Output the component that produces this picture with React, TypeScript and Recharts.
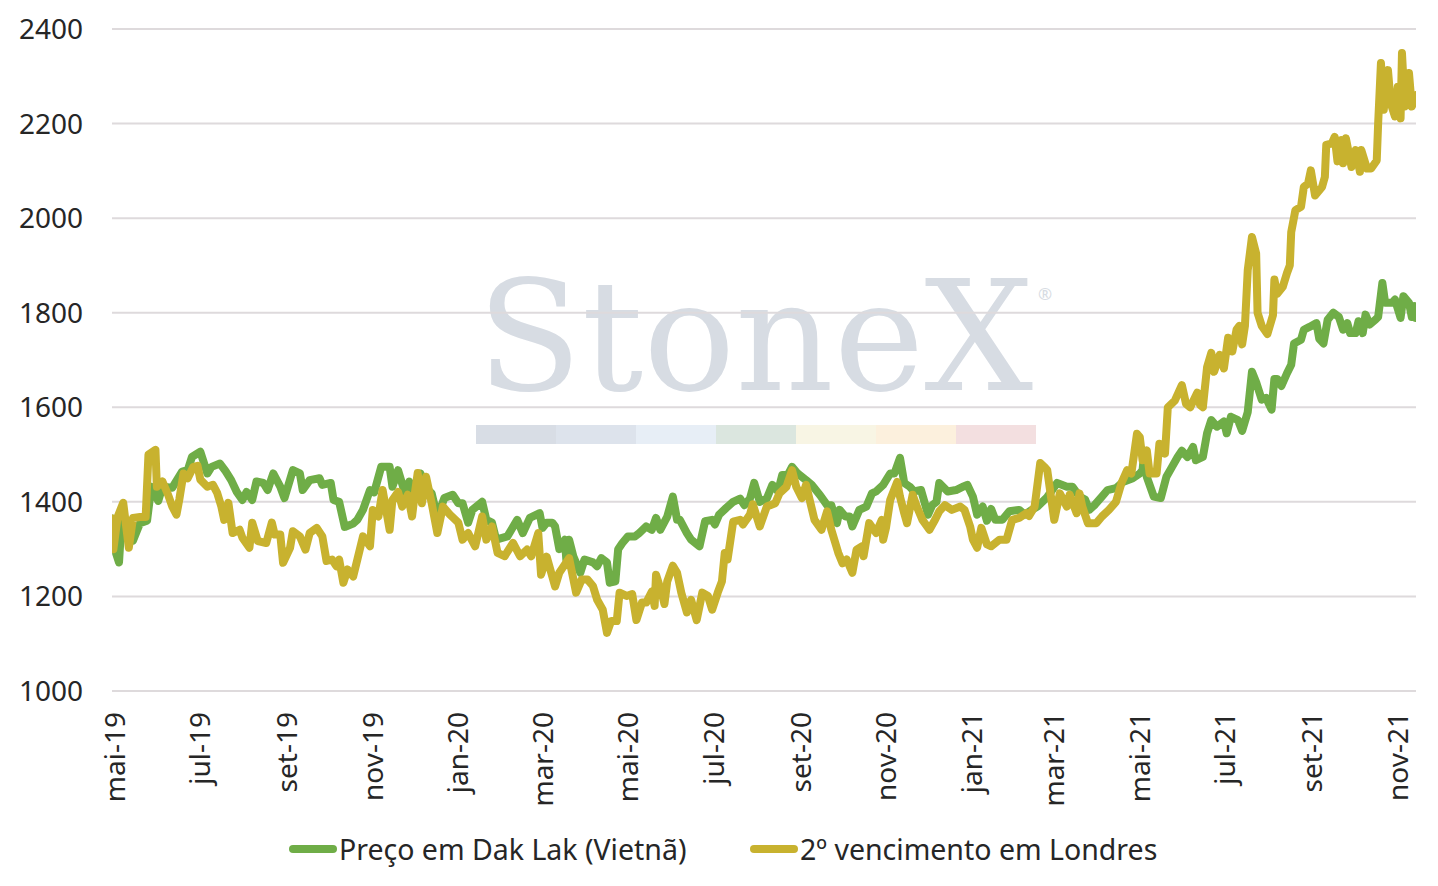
import React from 'react';
import { CartesianGrid, Line, LineChart, XAxis, YAxis } from 'recharts';

// x values are days counted from 1 May 2019
const monthTicks = [0, 61, 123, 184, 245, 305, 366, 427, 489, 550, 611, 670, 731, 792, 854, 915];
const monthLabels = ['mai-19', 'jul-19', 'set-19', 'nov-19', 'jan-20', 'mar-20', 'mai-20', 'jul-20', 'set-20', 'nov-20', 'jan-21', 'mar-21', 'mai-21', 'jul-21', 'set-21', 'nov-21'];
const priceTicks = [1000, 1200, 1400, 1600, 1800, 2000, 2200, 2400];

const dakLakDays = [
    -2, 1, 3, 5, 9, 13, 18, 23, 26, 31, 34, 41, 48, 52, 55, 61, 66, 69, 75, 79, 83, 87, 91, 94, 98, 101, 106, 109, 113, 118,
    121, 127, 132, 134, 139, 146, 148, 154, 156, 160, 164, 170, 173, 177, 182, 185, 190, 196, 198, 202, 207, 210, 214, 218,
    221, 226, 230, 235, 241, 245, 248, 252, 255, 262, 265, 269, 272, 280, 287, 291, 296, 303, 305, 308, 312, 314, 317, 321,
    322, 324, 327, 332, 335, 341, 344, 347, 351, 353, 357, 359, 362, 366, 371, 374, 379, 383, 386, 389, 394, 398, 401, 403,
    408, 411, 417, 421, 426, 428, 431, 436, 441, 446, 449, 453, 456, 460, 465, 469, 473, 476, 480, 483, 487, 493, 497, 503,
    508, 511, 515, 517, 521, 524, 526, 531, 536, 540, 543, 548, 553, 556, 560, 563, 567, 570, 575, 580, 583, 586, 588, 594,
    600, 605, 608, 612, 615, 619, 622, 625, 628, 633, 638, 645, 649, 654, 658, 665, 672, 679, 683, 688, 692, 695, 699, 704,
    708, 714, 719, 726, 731, 733, 734, 736, 741, 746, 750, 754, 758, 761, 765, 769, 771, 776, 779, 782, 786, 791, 793, 796,
    801, 804, 808, 811, 814, 818, 821, 825, 827, 829, 832, 836, 839, 841, 846, 848, 852, 857, 859, 862, 865, 869, 873, 876,
    879, 881, 885, 887, 890, 892, 895, 899, 901, 904, 906, 911, 913, 917, 919, 923, 925, 927, 928,
];
const dakLakPrices = [
    1365, 1290, 1272, 1368, 1330, 1318, 1355, 1360, 1432, 1402, 1432, 1430, 1464, 1467, 1495, 1506, 1460, 1474, 1481, 1465,
    1446, 1421, 1404, 1421, 1404, 1443, 1440, 1425, 1460, 1432, 1408, 1467, 1460, 1425, 1446, 1450, 1436, 1440, 1404, 1400,
    1347, 1354, 1362, 1383, 1425, 1420, 1474, 1474, 1432, 1467, 1418, 1443, 1411, 1460, 1432, 1418, 1368, 1408, 1415, 1397,
    1397, 1356, 1383, 1400, 1362, 1356, 1320, 1327, 1362, 1334, 1366, 1376, 1345, 1356, 1356, 1348, 1300, 1320, 1278, 1320,
    1285, 1250, 1278, 1272, 1264, 1281, 1272, 1229, 1232, 1300, 1313, 1327, 1327, 1334, 1348, 1341, 1366, 1341, 1369, 1411,
    1362, 1362, 1334, 1320, 1306, 1359, 1362, 1352, 1373, 1387, 1400, 1407, 1393, 1407, 1440, 1400, 1407, 1436, 1422, 1457,
    1457, 1474, 1460, 1446, 1436, 1414, 1393, 1393, 1355, 1383, 1369, 1369, 1348, 1383, 1390, 1418, 1422, 1436, 1460, 1460,
    1493, 1440, 1432, 1422, 1425, 1373, 1393, 1400, 1440, 1422, 1425, 1432, 1436, 1411, 1373, 1390, 1360, 1385, 1362, 1362,
    1380, 1383, 1373, 1383, 1390, 1410, 1440, 1432, 1432, 1411, 1405, 1383, 1394, 1411, 1425, 1429, 1442, 1450, 1460, 1467,
    1500, 1453, 1411, 1408, 1453, 1474, 1495, 1508, 1495, 1516, 1488, 1495, 1545, 1573, 1559, 1570, 1545, 1580, 1573, 1550,
    1590, 1675, 1653, 1616, 1620, 1595, 1660, 1660, 1645, 1672, 1690, 1735, 1743, 1764, 1770, 1778, 1745, 1735, 1785, 1800,
    1791, 1764, 1778, 1757, 1757, 1782, 1757, 1796, 1775, 1785, 1791, 1863, 1821, 1821, 1828, 1789, 1835, 1821, 1791, 1814,
    1789,
];

const londonDays = [
    -2, -1, 2, 6, 10, 13, 18, 22, 24, 29, 30, 34, 38, 41, 44, 46, 49, 52, 56, 59, 61, 66, 70, 73, 76, 78, 81, 84, 89, 91, 96,
    98, 102, 108, 112, 114, 118, 120, 125, 127, 132, 136, 139, 144, 148, 151, 155, 158, 160, 163, 166, 170, 173, 177, 182,
    184, 188, 191, 196, 198, 202, 205, 209, 212, 214, 216, 219, 222, 226, 230, 234, 239, 245, 248, 252, 257, 262, 265, 269,
    273, 278, 284, 289, 294, 297, 302, 304, 308, 314, 317, 324, 329, 333, 337, 341, 344, 348, 351, 354, 358, 360, 365, 369,
    372, 376, 379, 383, 385, 386, 390, 392, 394, 398, 401, 404, 408, 411, 415, 419, 423, 426, 430, 433, 435, 437, 441, 446,
    448, 453, 455, 460, 465, 471, 474, 479, 483, 486, 490, 493, 499, 504, 508, 511, 516, 519, 522, 526, 529, 533, 534, 538,
    543, 547, 548, 550, 553, 558, 560, 563, 565, 569, 572, 576, 581, 585, 588, 592, 597, 603, 606, 610, 612, 615, 618, 622,
    625, 631, 636, 640, 645, 650, 652, 656, 660, 663, 665, 670, 674, 679, 681, 686, 688, 690, 694, 700, 704, 709, 714, 718,
    722, 725, 729, 731, 733, 736, 738, 743, 745, 749, 751, 756, 761, 764, 767, 772, 774, 776, 779, 782, 784, 788, 791, 794,
    797, 800, 802, 804, 806, 808, 811, 814, 815, 818, 822, 826, 827, 829, 833, 836, 838, 839, 842, 846, 848, 851, 853, 856,
    861, 863, 864, 868, 870, 872, 875, 876, 878, 882, 885, 888, 889, 893, 896, 900, 901, 903, 905, 908, 910, 913, 915, 917,
    918, 920, 923, 925, 928,
];
const londonPrices = [
    1365, 1300, 1368, 1398, 1303, 1366, 1368, 1368, 1500, 1510, 1432, 1443, 1415, 1390, 1373, 1405, 1460, 1450, 1474, 1476,
    1447, 1432, 1436, 1419, 1390, 1362, 1398, 1334, 1341, 1324, 1303, 1356, 1317, 1313, 1356, 1331, 1331, 1271, 1303, 1338,
    1327, 1299, 1334, 1345, 1327, 1275, 1278, 1264, 1278, 1229, 1257, 1242, 1278, 1327, 1306, 1383, 1369, 1425, 1341, 1404,
    1421, 1390, 1415, 1369, 1418, 1461, 1397, 1453, 1397, 1334, 1390, 1373, 1356, 1320, 1334, 1306, 1369, 1320, 1348, 1292,
    1285, 1313, 1285, 1299, 1285, 1334, 1246, 1284, 1221, 1250, 1281, 1208, 1236, 1236, 1222, 1193, 1172, 1123, 1148, 1148,
    1208, 1201, 1205, 1150, 1187, 1187, 1210, 1180, 1246, 1208, 1184, 1232, 1265, 1250, 1208, 1166, 1193, 1150, 1208, 1201,
    1172, 1208, 1232, 1292, 1278, 1358, 1362, 1352, 1373, 1395, 1348, 1390, 1397, 1418, 1432, 1467, 1432, 1408, 1436, 1362,
    1341, 1380, 1341, 1292, 1270, 1278, 1250, 1299, 1306, 1285, 1355, 1334, 1362, 1320, 1345, 1404, 1442, 1411, 1376, 1355,
    1415, 1390, 1362, 1341, 1362, 1380, 1393, 1383, 1390, 1383, 1348, 1320, 1303, 1345, 1310, 1306, 1320, 1320, 1362, 1366,
    1376, 1370, 1390, 1482, 1474, 1467, 1362, 1418, 1390, 1415, 1376, 1418, 1390, 1355, 1355, 1369, 1383, 1400, 1440, 1467,
    1460, 1544, 1537, 1488, 1509, 1460, 1460, 1523, 1502, 1600, 1614, 1647, 1607, 1600, 1631, 1605, 1600, 1685, 1715, 1675,
    1711, 1682, 1747, 1718, 1764, 1772, 1733, 1772, 1890, 1960, 1925, 1800, 1772, 1755, 1795, 1870, 1840, 1855, 1884, 1900,
    1970, 2017, 2024, 2066, 2073, 2101, 2048, 2066, 2087, 2155, 2158, 2172, 2120, 2165, 2116, 2169, 2108, 2144, 2098, 2144,
    2105, 2105, 2122, 2200, 2328, 2229, 2313, 2243, 2215, 2278, 2211, 2349, 2236, 2307, 2236, 2260,
];

const GREEN = '#6fad47';
const GOLD = '#c8b22f';
const TEXT = '#262626';
const FONT = '"Noto Sans", sans-serif';

const dakLak = dakLakDays.map((day, i) => ({ day, price: dakLakPrices[i] }));
const london = londonDays.map((day, i) => ({ day, price: londonPrices[i] }));

const stripeColors = ['#d8dde5', '#dde3ec', '#e7eef6', '#dbe6df', '#f8f5e4', '#fcf0dd', '#f3dfe0'];

const MonthTick = (props: any) => {
    const { x, y, payload } = props;
    const ty = y + 13;
    const label = monthLabels[monthTicks.indexOf(payload.value)];
    return (
        <text x={x} y={ty} transform={`rotate(-90, ${x}, ${ty})`} textAnchor="end" dy="0.36em"
            fontSize={28} fill={TEXT} fontFamily={FONT}>
            {label}
        </text>
    );
};

function Watermark() {
    return (
        <svg width={1438} height={886} style={{ position: 'absolute', left: 0, top: 0 }}>
            <text x={477} y={390} fontFamily='"DejaVu Serif", serif' fontSize={154} fill="#d7dce3"
                textLength={556} lengthAdjust="spacingAndGlyphs">StoneX</text>
            <text x={1038} y={300} fontFamily={FONT} fontSize={17} fill="#d7dce3">®</text>
            {stripeColors.map((c, i) => (
                <rect key={c} x={476 + i * 80} y={425} width={80} height={19} fill={c} />
            ))}
        </svg>
    );
}

function LegendItem({ color, label, left }: { color: string, label: string, left: number }) {
    return (
        <div style={{ position: 'absolute', left, top: 830, display: 'flex', alignItems: 'center', height: 38 }}>
            <div style={{ width: 48, height: 8, borderRadius: 4, background: color, marginRight: 2 }} />
            <span style={{ fontFamily: FONT, fontSize: 28.5, color: TEXT, whiteSpace: 'nowrap' }}>{label}</span>
        </div>
    );
}

export default function App() {
    return (
        <div style={{ position: 'absolute', left: 0, top: 0, width: 1438, height: 886, background: '#fff' }}>
            <Watermark />
            <div style={{ position: 'absolute', left: 0, top: 0 }}>
                <LineChart width={1438} height={886} margin={{ top: 29, right: 22, left: 0, bottom: 75 }}>
                    <CartesianGrid vertical={false} stroke="#dedadc" strokeWidth={2} />
                    <XAxis
                        type="number"
                        dataKey="day"
                        domain={[-2, 928]}
                        ticks={monthTicks}
                        interval={0}
                        height={120}
                        axisLine={false}
                        tickLine={false}
                        tick={<MonthTick />}
                        allowDataOverflow
                    />
                    <YAxis
                        type="number"
                        domain={[1000, 2400]}
                        ticks={priceTicks}
                        width={112}
                        axisLine={false}
                        tickLine={false}
                        tickMargin={23}
                        tick={{ fontSize: 28, fill: TEXT, fontFamily: FONT }}
                    />
                    <Line data={dakLak} dataKey="price" type="linear" stroke={GREEN} strokeWidth={8}
                        strokeLinejoin="round" strokeLinecap="round" dot={false} isAnimationActive={false} />
                    <Line data={london} dataKey="price" type="linear" stroke={GOLD} strokeWidth={8}
                        strokeLinejoin="round" strokeLinecap="round" dot={false} isAnimationActive={false} />
                </LineChart>
            </div>
            <LegendItem color={GREEN} label="Preço em Dak Lak (Vietnã)" left={289} />
            <LegendItem color={GOLD} label="2º vencimento em Londres" left={750} />
        </div>
    );
}
